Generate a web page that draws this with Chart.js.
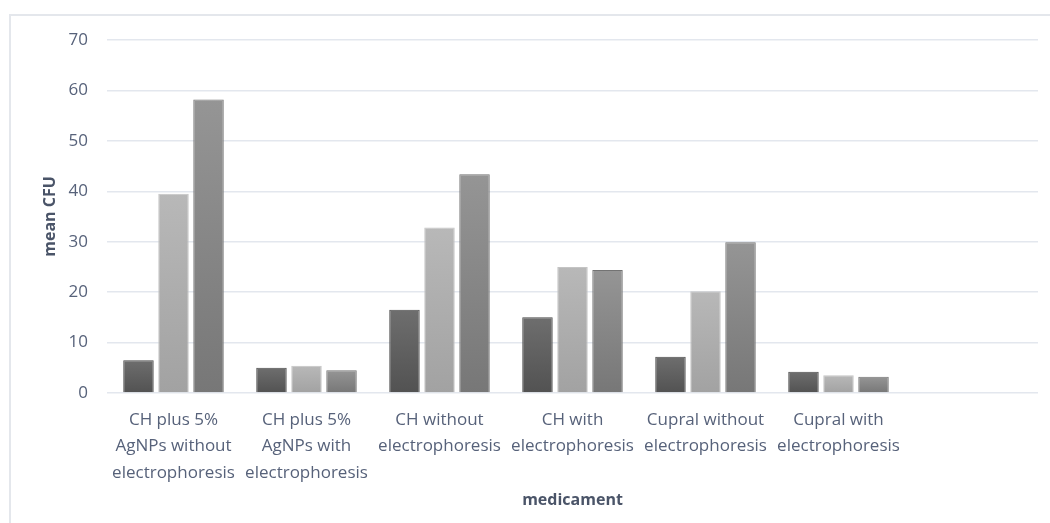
<!DOCTYPE html>
<html>
<head>
<meta charset="utf-8">
<script src="https://cdn.jsdelivr.net/npm/chart.js@4.4.1/dist/chart.umd.min.js"></script>
<style>
  html, body { margin: 0; padding: 0; background: #ffffff; }
  #wrap { width: 1050px; height: 523px; position: relative; }
</style>
</head>
<body>
<div id="wrap"><canvas id="c" width="1050" height="523"></canvas></div>
<script>
const categories = [
  ["CH plus 5%", "AgNPs without", "electrophoresis"],
  ["CH plus 5%", "AgNPs with", "electrophoresis"],
  ["CH without", "electrophoresis"],
  ["CH with", "electrophoresis"],
  ["Cupral without", "electrophoresis"],
  ["Cupral with", "electrophoresis"],
  ""
];
const series1 = [6.5, 5.0, 16.5, 15.0, 7.2, 4.2, null];
const series2 = [39.5, 5.4, 32.8, 25.0, 20.2, 3.5, null];
const series3 = [58.2, 4.5, 43.4, 24.4, 29.9, 3.2, null];
const yTicks = [0, 10, 20, 30, 40, 50, 60, 70];

const FONT = "'Open Sans', 'DejaVu Sans', sans-serif";
const TICK_COLOR = "#57627a";
const TITLE_COLOR = "#4a5468";

function barGradient(top, bottom) {
  return function (ctx) {
    const chart = ctx.chart;
    if (!chart.chartArea || ctx.type !== 'data') return bottom;
    const v = ctx.raw;
    if (v == null) return bottom;
    const ys = chart.scales.y;
    const y0 = ys.getPixelForValue(0);
    const y1 = ys.getPixelForValue(v);
    const g = chart.ctx.createLinearGradient(0, y1, 0, y0);
    g.addColorStop(0, top);
    g.addColorStop(1, bottom);
    return g;
  };
}

const framePlugin = {
  id: 'frame',
  beforeDraw(chart) {
    const c = chart.ctx;
    c.save();
    c.fillStyle = '#ffffff';
    c.fillRect(0, 0, chart.width, chart.height);
    c.strokeStyle = '#e4e7ec';
    c.lineWidth = 2;
    c.beginPath();
    c.moveTo(10, 530);
    c.lineTo(10, 15);
    c.lineTo(1060, 15);
    c.stroke();
    c.restore();
  }
};

new Chart(document.getElementById('c'), {
  type: 'bar',
  data: {
    labels: categories,
    datasets: [
      { label: 'A', data: series1, backgroundColor: barGradient('#6e6e6e', '#525252'), borderColor: '#4a4a4a', borderWidth: 1 },
      { label: 'B', data: series2, backgroundColor: barGradient('#b8b8b8', '#a2a2a2'), borderColor: '#c4c4c4', borderWidth: 1 },
      { label: 'C', data: series3, backgroundColor: barGradient('#959595', '#777777'), borderColor: '#737373', borderWidth: 1 }
    ]
  },
  options: {
    responsive: false,
    animation: false,
    devicePixelRatio: 1,
    layout: { padding: { left: 0, right: 12, top: 40, bottom: 0 } },
    datasets: { bar: { categoryPercentage: 0.79, barPercentage: 0.87 } },
    plugins: {
      legend: { display: false },
      tooltip: { enabled: false },
      title: { display: false }
    },
    scales: {
      x: {
        grid: { display: false, drawTicks: false, drawOnChartArea: false },
        border: { display: false },
        ticks: {
          color: TICK_COLOR,
          font: { family: FONT, size: 17, lineHeight: 1.55 },
          padding: 14,
          maxRotation: 0,
          autoSkip: false
        },
        title: {
          display: true,
          text: 'medicament',
          color: TITLE_COLOR,
          font: { family: FONT, size: 16, weight: 'bold' },
          padding: { top: 0, bottom: 13 }
        },
        afterFit(scale) { scale.height = 130; }
      },
      y: {
        min: 0,
        max: 70,
        afterBuildTicks(scale) { scale.ticks = yTicks.map(v => ({ value: v })); },
        grid: { color: '#e3e7ee', lineWidth: 1.5, drawTicks: false },
        border: { display: false },
        ticks: {
          color: TICK_COLOR,
          font: { family: FONT, size: 17 },
          padding: 19
        },
        title: {
          display: true,
          text: 'mean CFU',
          color: TITLE_COLOR,
          font: { family: FONT, size: 16, weight: 'bold' },
          padding: { top: 41, bottom: 0 }
        },
        afterFit(scale) { scale.width = 107; }
      }
    }
  },
  plugins: [framePlugin]
});
</script>
</body>
</html>
